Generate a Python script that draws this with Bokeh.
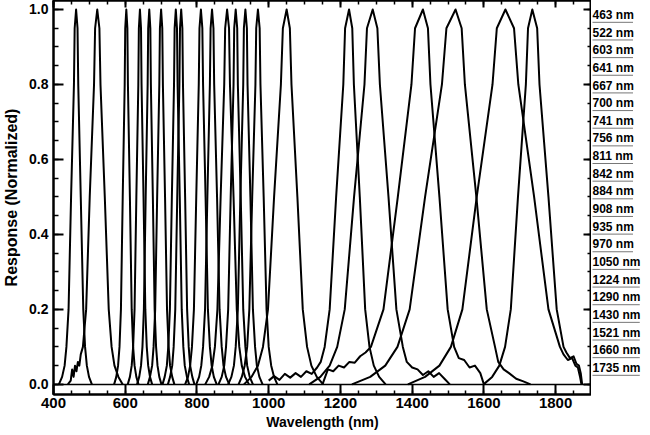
from bokeh.plotting import figure
from bokeh.models import (Range1d, SingleIntervalTicker, LinearAxis, PrintfTickFormatter,
                          CustomJSTickFormatter, Span, ColumnDataSource)
from bokeh.layouts import row
from bokeh.embed import file_html
from bokeh.resources import INLINE
from bokeh.core.properties import value

# ---------------- data ----------------
labels = ["463 nm", "522 nm", "603 nm", "641 nm", "667 nm", "700 nm", "741 nm",
          "756 nm", "811 nm", "842 nm", "884 nm", "908 nm", "935 nm", "970 nm",
          "1050 nm", "1224 nm", "1290 nm", "1430 nm", "1521 nm", "1660 nm", "1735 nm"]
peak_nm = [463, 522, 603, 641, 667, 700, 741, 756, 811, 842, 884, 908, 935, 970,
           1050, 1224, 1290, 1430, 1521, 1660, 1735]

# response levels at which each flank crossing was read
levels = [0.0, 0.02, 0.05, 0.1, 0.2, 0.5, 0.8, 0.95]

# wavelength (nm) where the rising (left) flank crosses each level
left_nm = [
    [415, 424, 431, 436, 442, 449, 457, 459],
    [451, 463, 474, 482, 491, 501, 513, 516],
    [569, 575, 580, 584, 588, 593, 598.5, 600],
    [607, 613, 618, 622, 626, 631, 636.5, 638],
    [633, 639, 644, 648, 652, 657, 662.5, 664],
    [663, 669, 675, 679, 683.5, 689, 695, 696.7],
    [704, 710, 716, 720, 724.5, 730, 736, 737.7],
    [719, 725, 731, 735, 739.5, 745, 751, 752.7],
    [767, 775, 781, 786, 791.5, 798, 805, 807],
    [798, 806, 812, 817, 822.5, 829, 836, 838],
    [823, 834, 843, 850, 857, 866, 876, 878.6],
    [860, 869, 876, 881, 887, 894, 902, 903.8],
    [887, 896, 903, 908, 914, 921, 929, 930.8],
    [916, 925, 933, 940, 946, 954, 963, 965.2],
    [931, 952, 970, 984, 998, 1015, 1034, 1039.5],
    [1102, 1123, 1141, 1156, 1170, 1188, 1208, 1213],
    [1113, 1144, 1170, 1191, 1212, 1238, 1267, 1274],
    [1100, 1150, 1190, 1285, 1320, 1360, 1398, 1408],
    [1232, 1283, 1325, 1359, 1393, 1436, 1483, 1495.5],
    [1388, 1436, 1476, 1508, 1540, 1580, 1624, 1636],
    [1599, 1623, 1643, 1659, 1675, 1695, 1717, 1723],
]
# wavelength (nm) where the falling (right) flank crosses each level
right_nm = [
    [507, 499, 493, 488, 483, 476, 469, 467],
    [593, 581, 570, 562, 554, 543, 531, 528],
    [637, 631, 626, 622, 618, 613, 607.5, 606],
    [675, 669, 664, 660, 656, 651, 645.5, 644],
    [701, 695, 690, 686, 682, 677, 671.5, 670],
    [737, 731, 725, 721, 716.5, 711, 705, 703.3],
    [778, 772, 766, 762, 757.5, 752, 746, 744.3],
    [793, 787, 781, 777, 772.5, 767, 761, 759.3],
    [855, 847, 841, 836, 830.5, 824, 817, 815],
    [890, 881, 874, 869, 863, 856, 848, 846],
    [945, 934, 925, 918, 911, 902, 892, 889.4],
    [956, 947, 940, 935, 929, 922, 914, 912.2],
    [983, 974, 967, 962, 956, 949, 941, 939.2],
    [1024, 1015, 1007, 1000, 994, 986, 977, 974.8],
    [1152, 1134, 1119, 1107, 1095, 1080, 1063.5, 1059],
    [1326, 1308, 1293, 1281, 1269, 1254, 1237.5, 1233],
    [1440, 1413, 1391, 1374, 1356, 1334, 1310, 1303],
    [1586, 1559, 1536, 1517, 1499, 1476, 1451, 1444],
    [1718, 1683, 1654, 1631, 1608, 1579, 1547, 1538],
    [1932, 1884, 1844, 1812, 1780, 1740, 1696, 1684],
    [1888, 1861, 1839, 1822, 1803, 1780, 1755, 1748.5],
]

# noisy low tails (below 0.1), read point by point: curve index -> (nm, response)
noisy_left = {
    1: ([440, 448, 452, 456, 460, 464, 468, 472, 476],
        [0.0, 0.01, 0.04, 0.02, 0.05, 0.035, 0.06, 0.05, 0.08]),
    15: ([1000, 1015, 1030, 1045, 1060, 1075, 1090, 1105, 1120, 1135, 1145],
         [0.01, 0.022, 0.012, 0.028, 0.018, 0.03, 0.02, 0.035, 0.028, 0.045, 0.06]),
    17: ([1150, 1165, 1180, 1195, 1210, 1225, 1240, 1255, 1270],
         [0.0, 0.04, 0.035, 0.05, 0.045, 0.06, 0.058, 0.075, 0.085]),
}
noisy_right = {
    16: ([1385, 1400, 1415, 1430, 1445, 1460, 1475, 1490, 1505],
         [0.06, 0.045, 0.04, 0.025, 0.035, 0.02, 0.03, 0.015, 0.0]),
    17: ([1530, 1545, 1560, 1575, 1590, 1600],
         [0.07, 0.065, 0.045, 0.05, 0.03, 0.0]),
    18: ([1640, 1655, 1670, 1690, 1710, 1730],
         [0.06, 0.04, 0.03, 0.015, 0.008, 0.0]),
    19: ([1822, 1834, 1846, 1855, 1862, 1868, 1872],
         [0.08, 0.065, 0.07, 0.05, 0.045, 0.02, 0.0]),
    20: ([1830, 1840, 1850, 1858, 1865, 1870, 1874],
         [0.085, 0.07, 0.075, 0.055, 0.05, 0.03, 0.0]),
}

x_label = "Wavelength (nm)"
y_label = "Response (Normalized)"

# ---------------- build curves ----------------
def build_curve(i):
    xs, ys = [], []
    k0 = levels.index(0.1)
    if i in noisy_left:
        xs += noisy_left[i][0]
        ys += noisy_left[i][1]
        start = k0
    else:
        start = 0
    for k in range(start, len(levels)):
        xs.append(left_nm[i][k]); ys.append(levels[k])
    xs.append(peak_nm[i]); ys.append(1.0)
    stop = k0 if i in noisy_right else 0
    for k in range(len(levels) - 1, stop - 1, -1):
        xs.append(right_nm[i][k]); ys.append(levels[k])
    if i in noisy_right:
        xs += noisy_right[i][0]
        ys += noisy_right[i][1]
    return xs, ys

FONT = "Liberation Sans"
FW, FH = 538, 394

p = figure(frame_width=FW, frame_height=FH, x_range=Range1d(400, 1900),
           y_range=Range1d(-0.027, 1.024), output_backend="svg",
           toolbar_location=None, min_border=0)
p.min_border_left = 0
p.min_border_right = 0
p.min_border_top = 0
p.min_border_bottom = 0
p.grid.visible = False
p.outline_line_color = "black"
p.outline_line_width = 2
p.background_fill_color = "white"
p.border_fill_color = "white"

for i in range(len(peak_nm)):
    xs, ys = build_curve(i)
    p.line(xs, ys, line_color="black", line_width=2, line_join="round")

p.add_layout(Span(location=0, dimension="width", line_color="black", line_width=1.5))

# bottom axis
xa = p.xaxis[0]
xa.ticker = SingleIntervalTicker(interval=200, num_minor_ticks=4)
xa.major_tick_in = 10
xa.major_tick_out = 0
xa.minor_tick_in = 4
xa.minor_tick_out = 0
xa.axis_line_width = 2
xa.major_tick_line_width = 2
xa.minor_tick_line_width = 1.5
xa.major_label_text_font = FONT
xa.major_label_text_font_style = "bold"
xa.major_label_text_font_size = "15px"
xa.major_label_text_color = "black"
xa.major_label_standoff = 3
xa.axis_label = x_label
xa.axis_label_text_font = FONT
xa.axis_label_text_font_style = "bold"
xa.axis_label_text_font_size = "14px"
xa.axis_label_standoff = 3
xa.axis_label_text_color = "black"

# left axis
ya = p.yaxis[0]
ya.ticker = SingleIntervalTicker(interval=0.2, num_minor_ticks=4)
ya.formatter = PrintfTickFormatter(format="%.1f")
ya.major_tick_in = 10
ya.major_tick_out = 0
ya.minor_tick_in = 5
ya.minor_tick_out = 0
ya.axis_line_width = 2
ya.major_tick_line_width = 2
ya.minor_tick_line_width = 1.5
ya.major_label_text_font = FONT
ya.major_label_text_font_style = "bold"
ya.major_label_text_font_size = "14px"
ya.major_label_text_color = "black"
ya.major_label_standoff = 5
ya.axis_label = y_label
ya.axis_label_text_font = FONT
ya.axis_label_text_font_style = "bold"
ya.axis_label_text_font_size = "16px"
ya.axis_label_standoff = 6
ya.axis_label_text_color = "black"

blank = CustomJSTickFormatter(code="return ''")
top = LinearAxis(ticker=SingleIntervalTicker(interval=200, num_minor_ticks=4), formatter=blank,
                 major_tick_in=7, major_tick_out=0, minor_tick_in=4, minor_tick_out=0,
                 axis_line_width=2, major_tick_line_width=2, minor_tick_line_width=1.5,
                 major_label_standoff=0)
p.add_layout(top, "above")
right = LinearAxis(ticker=SingleIntervalTicker(interval=0.2, num_minor_ticks=4), formatter=blank,
                   major_tick_in=8, major_tick_out=0, minor_tick_in=4, minor_tick_out=0,
                   axis_line_width=2, major_tick_line_width=2, minor_tick_line_width=1.5,
                   major_label_standoff=0)
p.add_layout(right, "right")

# ---------------- right-hand list of filter labels ----------------
n = len(labels)
first_off = 14.4
step = 17.65
q = figure(frame_width=50, frame_height=FH, x_range=Range1d(0, 50),
           y_range=Range1d((FH - first_off) / step, -first_off / step),
           output_backend="svg", toolbar_location=None, min_border=0)
q.axis.visible = False
q.grid.visible = False
q.outline_line_color = None
q.min_border_left = 0
q.min_border_right = 0
q.min_border_top = 0
q.min_border_bottom = 0

idx = list(range(n))
widths = [len(s) * 6.75 for s in labels]
src = ColumnDataSource(dict(x=[1] * n, y=idx, text=labels,
                            x1=[1 + w for w in widths], yu=[i + 0.42 for i in idx]))
q.segment(x0="x", y0="yu", x1="x1", y1="yu", source=src, line_color="#777777", line_width=1)
q.text(x="x", y="y", text="text", source=src, text_font=value(FONT), text_font_style="bold",
       text_font_size="12px", text_baseline="middle", text_align="left", text_color="black")

layout = row(p, q)
open("out.html", "w").write(file_html(layout, INLINE))
